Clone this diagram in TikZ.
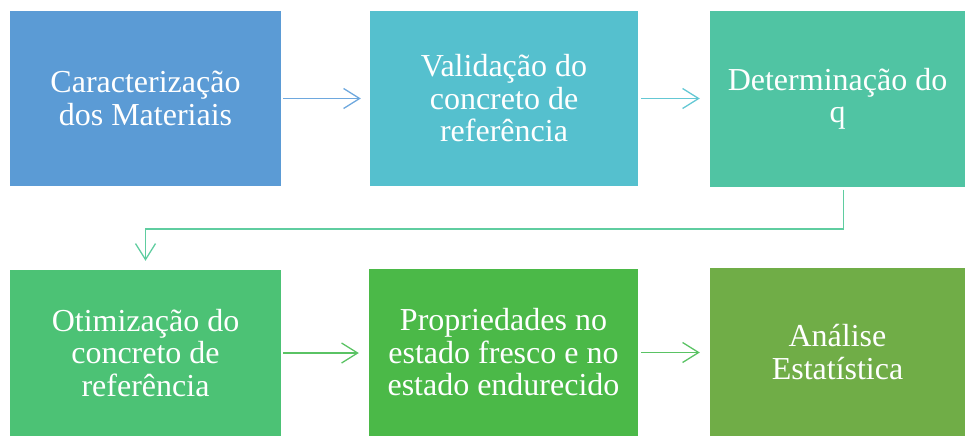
\documentclass[tikz,border=0pt]{standalone}
\usepackage{fontspec}
\setmainfont{Liberation Serif}
\usetikzlibrary{arrows.meta,calc}
\definecolor{azul}{RGB}{91,155,213}
\definecolor{ciano}{RGB}{85,192,206}
\definecolor{verdeagua}{RGB}{80,196,163}
\definecolor{verdeclaro}{RGB}{76,194,117}
\definecolor{verde}{RGB}{75,185,72}
\definecolor{oliva}{RGB}{112,173,71}
\definecolor{setaazul}{RGB}{110,168,222}
\definecolor{setaciano}{RGB}{100,200,212}
\definecolor{setaverde}{RGB}{95,205,160}
\definecolor{setaverde2}{RGB}{90,195,100}
\tikzset{
  caixa/.style={draw=none,text=white,align=center,inner sep=0pt,
    font=\fontsize{32}{32.5}\selectfont},
  seta/.style={line width=1.3pt,-{Straight Barb[length=16pt,width=20pt,line width=1.3pt]}}
}
\begin{document}
\begin{tikzpicture}[x=1pt,y=-1pt]
  \useasboundingbox (0,0) rectangle (968,436);
  % Linha de cima
  \node[caixa,fill=azul,minimum width=271pt,minimum height=175pt] (carac) at (145.5,98.5) {Caracterização\\dos Materiais};
  \node[caixa,fill=ciano,minimum width=268pt,minimum height=174pt] (valid) at (504,98.5) {Validação do\\concreto de\\referência};
  \node[caixa,fill=verdeagua,minimum width=255pt,minimum height=175pt] (determ) at (837.5,99) {Determinação do\\q};
  % Linha de baixo
  \node[caixa,fill=verdeclaro,minimum width=271pt,minimum height=166pt] (otim) at (145.5,353) {Otimização do\\concreto de\\referência};
  \node[caixa,fill=verde,minimum width=269pt,minimum height=167pt] (propr) at (503.5,352.5) {Propriedades no\\estado fresco e no\\estado endurecido};
  \node[caixa,fill=oliva,minimum width=255pt,minimum height=168pt] (anal) at (837.5,352) {Análise\\Estatística};
  % Setas
  \draw[seta,setaazul] ([xshift=2pt]carac.east) -- ([xshift=-9pt]valid.west |- carac.east);
  \draw[seta,setaciano] ([xshift=3pt]valid.east) -- ([xshift=-10pt]determ.west |- valid.east);
  \coordinate (dobra) at (843.5,229);
  \draw[seta,setaverde] ([xshift=6pt,yshift=-3pt]determ.south) -- (dobra) -| ([yshift=9pt]otim.north);
  \draw[seta,setaverde2] ([xshift=2pt]otim.east) -- ([xshift=-10pt]propr.west |- otim.east);
  \draw[seta,setaverde2] ([xshift=3pt]propr.east) -- ([xshift=-10pt]anal.west |- propr.east);
\end{tikzpicture}
\end{document}
